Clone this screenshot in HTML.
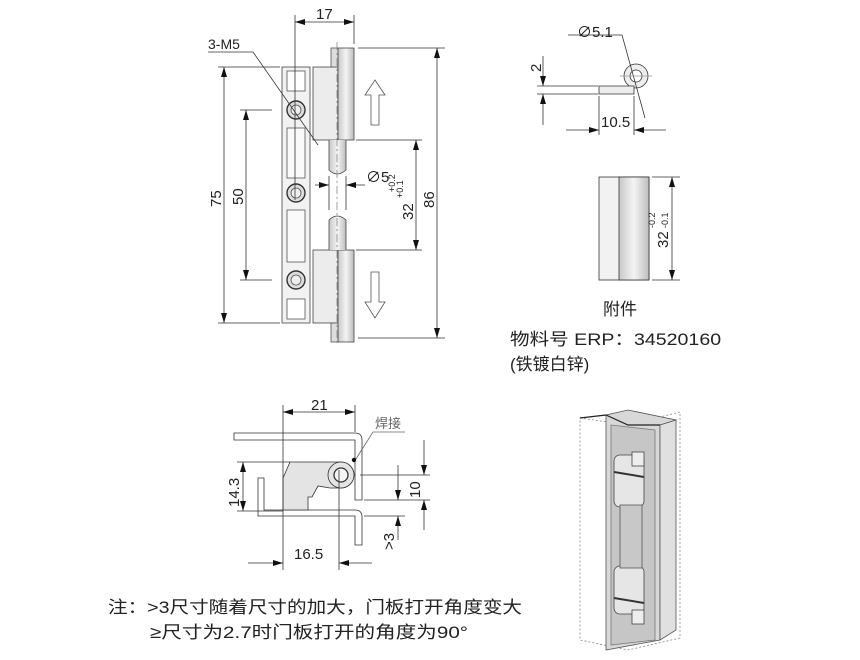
<!DOCTYPE html>
<html><head><meta charset="utf-8"><style>
body{margin:0;background:#fff;width:860px;height:660px;overflow:hidden}
svg{display:block}
text{font-family:"Liberation Sans","Noto Sans CJK SC",sans-serif;fill:#222}
</style></head><body>
<svg width="860" height="660" viewBox="0 0 860 660" xmlns="http://www.w3.org/2000/svg">
<defs>
<marker id="a" viewBox="0 0 10 6" refX="10" refY="3" markerWidth="10" markerHeight="6" orient="auto-start-reverse" markerUnits="userSpaceOnUse"><path d="M0,0L10,3L0,6z" fill="#111"/></marker>
<linearGradient id="g" x1="0" x2="1"><stop offset="0" stop-color="#c8c8c8"/><stop offset=".5" stop-color="#f4f4f4"/><stop offset="1" stop-color="#bdbdbd"/></linearGradient>
<clipPath id="c"><rect x="0" y="0" width="721" height="660"/></clipPath>
</defs>
<g stroke="#555" stroke-width="0.8" fill="none">
<rect x="282" y="67" width="28" height="256" fill="#f2f2f2" stroke="#444"/>
<rect x="313" y="67" width="25" height="73" fill="#ececec" stroke="#444"/>
<rect x="338" y="48" width="16" height="92" fill="url(#g)" stroke="#444"/>
<rect x="331" y="48" width="7" height="19" fill="#ddd"/>
<rect x="313" y="250" width="25" height="73" fill="#ececec" stroke="#444"/>
<rect x="338" y="250" width="16" height="92" fill="url(#g)" stroke="#444"/>
<rect x="331" y="323" width="7" height="19" fill="#ddd"/>
<path d="M329,140V170Q337,178 346,170V140" fill="url(#g)" stroke="#444"/>
<path d="M329,250V220Q337,212 346,220V250" fill="url(#g)" stroke="#444"/>
<rect x="287" y="71" width="18" height="20" fill="#fff"/>
<rect x="287" y="299" width="18" height="20" fill="#fff"/>
<rect x="287" y="128" width="18" height="50" fill="#fafafa"/>
<rect x="287" y="210" width="18" height="52" fill="#fafafa"/>
<circle cx="296" cy="110" r="9" fill="#ddd" stroke="#333" stroke-width="1.4"/><circle cx="296" cy="110" r="5" fill="#eee"/>
<circle cx="296" cy="193" r="9" fill="#ddd" stroke="#333" stroke-width="1.4"/><circle cx="296" cy="193" r="5" fill="#eee"/>
<circle cx="296" cy="280" r="9" fill="#ddd" stroke="#333" stroke-width="1.4"/><circle cx="296" cy="280" r="5" fill="#eee"/>
<path d="M371,125V95H365L375,80L385,95H379V125Z" fill="#fff"/>
<path d="M371,272V302H365L375,318L385,302H379V272Z" fill="#fff"/>
<g stroke="#333">
<line x1="295" y1="15" x2="295" y2="200"/><line x1="354" y1="15" x2="354" y2="44"/>
<line x1="295" y1="22" x2="354" y2="22" marker-start="url(#a)" marker-end="url(#a)"/>
<line x1="358" y1="48" x2="445" y2="48"/><line x1="358" y1="338" x2="445" y2="338"/>
<line x1="437" y1="48" x2="437" y2="338" marker-start="url(#a)" marker-end="url(#a)"/>
<line x1="218" y1="67" x2="280" y2="67"/><line x1="218" y1="323" x2="280" y2="323"/>
<line x1="224" y1="67" x2="224" y2="323" marker-start="url(#a)" marker-end="url(#a)"/>
<line x1="240" y1="110" x2="272" y2="110"/><line x1="240" y1="280" x2="272" y2="280"/>
<line x1="246" y1="110" x2="246" y2="280" marker-start="url(#a)" marker-end="url(#a)"/>
<line x1="356" y1="140" x2="422" y2="140"/><line x1="356" y1="250" x2="422" y2="250"/>
<line x1="416" y1="140" x2="416" y2="250" marker-start="url(#a)" marker-end="url(#a)"/>
<line x1="315" y1="185" x2="329" y2="185" marker-end="url(#a)"/><line x1="365" y1="185" x2="346" y2="185" marker-end="url(#a)"/>
<line x1="329" y1="176" x2="329" y2="210"/><line x1="346" y1="176" x2="346" y2="210"/>
<line x1="337" y1="42" x2="337" y2="345" stroke-dasharray="8 3 2 3" stroke="#888"/>
<polyline points="208,52 253,52 318,145"/>
</g>
<circle cx="636" cy="76" r="12" fill="#eee" stroke="#333"/><circle cx="636" cy="76" r="6" fill="#fff" stroke="#333"/>
<path d="M599,86H634V94H599Z" fill="#eee" stroke="#333"/>
<g stroke="#333">
<line x1="537" y1="86" x2="598" y2="86"/><line x1="537" y1="94" x2="598" y2="94"/>
<line x1="543" y1="56" x2="543" y2="86" marker-end="url(#a)"/><line x1="543" y1="125" x2="543" y2="94" marker-end="url(#a)"/>
<line x1="599" y1="96" x2="599" y2="135"/><line x1="634" y1="96" x2="634" y2="135"/>
<line x1="566" y1="130" x2="599" y2="130" marker-end="url(#a)"/><line x1="666" y1="130" x2="634" y2="130" marker-end="url(#a)"/>
<polyline points="568,35 622,35 645,118"/>
<line x1="620" y1="76" x2="652" y2="76" stroke="#999"/>
</g>
<rect x="599" y="177" width="50" height="103" fill="#f2f2f2" stroke="#333"/>
<rect x="619" y="177" width="30" height="103" fill="url(#g)" stroke="#333"/>
<g stroke="#333">
<line x1="652" y1="177" x2="680" y2="177"/><line x1="652" y1="280" x2="680" y2="280"/>
<line x1="672" y1="177" x2="672" y2="280" marker-start="url(#a)" marker-end="url(#a)"/>
</g>
<path d="M234,433H355Q362,433 362,440V500H355V440H234Z" fill="#fff" stroke="#333"/>
<path d="M258,478H264V510H355Q362,510 362,517V545H355V516H258Z" fill="#fff" stroke="#333"/>
<path d="M290,462H341A13,13 0 0 1 341,488H330L318,486L312,497H308V510H283V478Z" fill="#e4e4e4" stroke="#333"/>
<circle cx="341" cy="475" r="13" fill="#e4e4e4" stroke="#333"/><circle cx="341" cy="475" r="7" fill="#f4f4f4" stroke="#333" stroke-width="1.3"/>
<g stroke="#333">
<line x1="283" y1="405" x2="283" y2="570"/><line x1="355" y1="405" x2="355" y2="432"/>
<line x1="283" y1="412" x2="355" y2="412" marker-start="url(#a)" marker-end="url(#a)"/>
<line x1="237" y1="462" x2="290" y2="462"/><line x1="237" y1="511" x2="283" y2="511"/>
<line x1="243" y1="462" x2="243" y2="511" marker-start="url(#a)" marker-end="url(#a)"/>
<line x1="360" y1="475" x2="430" y2="475"/><line x1="364" y1="500" x2="430" y2="500"/><line x1="364" y1="516" x2="405" y2="516"/>
<line x1="424" y1="440" x2="424" y2="475" marker-end="url(#a)"/><line x1="424" y1="530" x2="424" y2="500" marker-end="url(#a)"/>
<line x1="398" y1="465" x2="398" y2="500" marker-end="url(#a)"/><line x1="398" y1="540" x2="398" y2="516" marker-end="url(#a)"/>
<line x1="339" y1="470" x2="339" y2="570"/>
<line x1="248" y1="563" x2="283" y2="563" marker-end="url(#a)"/><line x1="372" y1="563" x2="339" y2="563" marker-end="url(#a)"/>
<polyline points="405,432 373,432 354,462" stroke="#666"/>
</g>
<circle cx="354" cy="460" r="2.2" fill="#111" stroke="none"/>
<path d="M580,418L628,425L680,412V638L628,650L580,640Z" fill="#fff" stroke="#888" stroke-dasharray="2 2"/>
<path d="M606,415L628,410L676,420L660,425V640L606,650Z" fill="#d8d8d8" stroke="#555"/>
<path d="M611,425L655,430V640L611,645Z" fill="#c6c6c6" stroke="#777"/>
<path d="M660,425L676,420V630L660,640Z" fill="#e0e0e0" stroke="#555"/>
<path d="M580,418L606,415M606,415L628,425L660,425" stroke="#222" stroke-width="1.2"/>
<rect x="614" y="455" width="30" height="52" rx="6" fill="#e6e6e6" stroke="#444"/>
<rect x="614" y="566" width="30" height="48" rx="6" fill="#e6e6e6" stroke="#444"/>
<rect x="620" y="505" width="22" height="63" fill="#c8c8c8" stroke="#555"/>
<rect x="632" y="452" width="12" height="14" fill="#eee" stroke="#444"/>
<rect x="632" y="610" width="12" height="14" fill="#eee" stroke="#444"/>
<line x1="614" y1="472" x2="644" y2="477" stroke="#333" stroke-width="2"/>
<line x1="614" y1="598" x2="644" y2="603" stroke="#333" stroke-width="2"/>
</g>
<text x="316" y="19" font-size="15">17</text>
<text x="208" y="49" font-size="14">3-M5</text>
<text x="366" y="182" font-size="15">∅5</text>
<text font-size="15" transform="translate(221,207) rotate(-90)">75</text>
<text font-size="15" transform="translate(243,205) rotate(-90)">50</text>
<text font-size="15" transform="translate(434,208) rotate(-90)">86</text>
<text font-size="15" transform="translate(413,220) rotate(-90)">32</text>
<text font-size="9" transform="translate(403,198) rotate(-90)">+0.1</text>
<text font-size="9" transform="translate(395,192) rotate(-90)">+0.2</text>
<text x="577" y="37" font-size="15">∅5.1</text>
<text font-size="15" transform="translate(541,72) rotate(-90)">2</text>
<text x="601" y="127" font-size="15">10.5</text>
<text font-size="15" transform="translate(668,248) rotate(-90)">32</text>
<text font-size="9" transform="translate(668,228) rotate(-90)">-0.1</text>
<text font-size="9" transform="translate(655,228) rotate(-90)">-0.2</text>
<text x="603" y="315" font-size="17">附件</text>
<g clip-path="url(#c)"><text x="510" y="345" font-size="17" textLength="222" lengthAdjust="spacingAndGlyphs">物料号 ERP：345201600</text></g>
<text x="510" y="370" font-size="17">(铁镀白锌)</text>
<text x="311" y="410" font-size="15">21</text>
<text x="375" y="428" font-size="13" style="fill:#666">焊接</text>
<text font-size="15" transform="translate(239,507) rotate(-90)">14.3</text>
<text font-size="15" transform="translate(420,498) rotate(-90)">10</text>
<text font-size="15" transform="translate(394,550) rotate(-90)">&gt;3</text>
<text x="294" y="559" font-size="15">16.5</text>
<text x="108" y="613" font-size="17" textLength="414" lengthAdjust="spacingAndGlyphs">注：&gt;3尺寸随着尺寸的加大，门板打开角度变大</text>
<text x="150" y="638" font-size="17" textLength="318" lengthAdjust="spacingAndGlyphs">≥尺寸为2.7时门板打开的角度为90°</text>
</svg>
</body></html>
